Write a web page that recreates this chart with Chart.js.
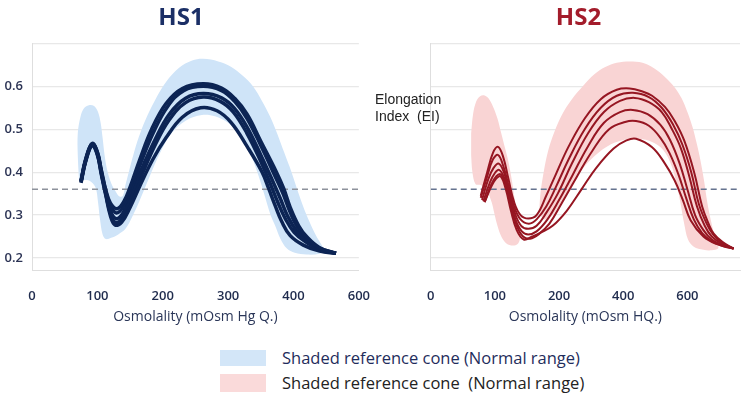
<!DOCTYPE html>
<html>
<head>
<meta charset="utf-8">
<script src="https://cdn.jsdelivr.net/npm/chart.js@4.4.1/dist/chart.umd.min.js"></script>
<style>
  body { margin: 0; background: #fff; }
  #wrap { position: relative; width: 749px; height: 400px; overflow: hidden; background: #fff; }
  #hs1 { position: absolute; left: 0; top: 0; }
  #hs2 { position: absolute; left: 417px; top: 0; }
  .ei { position: absolute; left: 375px; top: 91px; font-family: "Liberation Sans", Arial, sans-serif;
        font-size: 14px; line-height: 17px; color: #222; }
  .sw { position: absolute; left: 220px; width: 46px; }
  .lt { position: absolute; left: 282px; font-family: "Open Sans", sans-serif; font-size: 16.5px;
        line-height: 22px; white-space: pre; }
</style>
</head>
<body>
<div id="wrap">
  <canvas id="hs1" width="380" height="340"></canvas>
  <canvas id="hs2" width="332" height="340"></canvas>
  <div class="ei">Elongation<br>Index&nbsp; (EI)</div>
  <div class="sw" style="top:350px;height:16px;background:#d3e6f8"></div>
  <div class="lt" style="top:347px;color:#1f2d5c">Shaded reference cone (Normal range)</div>
  <div class="sw" style="top:374px;height:18px;background:#fadada"></div>
  <div class="lt" style="top:372px;color:#222">Shaded reference cone  (Normal range)</div>
</div>
<script>
// axis ticks (positions on the drawn axis and the labels printed there)
var hs1TickValues = [0, 100, 200, 300, 400, 500];
var hs1TickLabels = ['0', '100', '200', '300', '400', '600'];
var hs2TickValues = [0, 100, 200, 300, 400];
var hs2TickLabels = ['0', '100', '200', '400', '600'];
var yTickValues = [0.2, 0.3, 0.4, 0.5, 0.6, 0.7];
var yTickLabels = ['0.2', '0.3', '0.4', '0.5', '0.6', ''];
var dashedLevel = 0.36;

// HS1 curves [osmolality, EI]
var hs1A = [[75,0.38],[82,0.43],[92,0.467],[100,0.447],[106,0.405],[113,0.358],[120,0.328],[130,0.315],[140,0.33],[150,0.365],[165,0.43],[183,0.50],[205,0.56],[230,0.595],[262,0.606],[290,0.596],[310,0.572],[329,0.535],[350,0.472],[374,0.40],[385,0.362],[395,0.318],[408,0.275],[420,0.25],[440,0.224],[465,0.211]];
var hs1B = [[75,0.379],[82,0.428],[92,0.466],[100,0.446],[106,0.403],[113,0.355],[120,0.322],[129,0.305],[139,0.318],[150,0.355],[166,0.42],[185,0.49],[207,0.552],[232,0.59],[262,0.60],[290,0.59],[310,0.565],[329,0.525],[350,0.462],[372,0.39],[384,0.35],[394,0.31],[406,0.272],[420,0.247],[440,0.223],[465,0.211]];
var hs1C = [[75,0.378],[82,0.427],[92,0.465],[100,0.444],[106,0.40],[113,0.35],[120,0.31],[128,0.292],[138,0.302],[150,0.34],[167,0.405],[188,0.475],[210,0.535],[235,0.572],[262,0.583],[290,0.573],[310,0.548],[329,0.505],[350,0.44],[368,0.38],[380,0.338],[391,0.298],[404,0.265],[420,0.243],[440,0.221],[465,0.211]];
var hs1D = [[75,0.377],[82,0.426],[92,0.464],[100,0.442],[106,0.398],[113,0.348],[120,0.303],[127,0.283],[137,0.29],[150,0.33],[167,0.39],[188,0.462],[210,0.522],[235,0.562],[262,0.575],[288,0.565],[308,0.54],[329,0.49],[350,0.425],[364,0.375],[376,0.33],[388,0.29],[401,0.26],[418,0.238],[440,0.219],[465,0.211]];
var hs1E = [[75,0.375],[82,0.424],[92,0.462],[100,0.44],[106,0.395],[113,0.345],[120,0.298],[127,0.277],[137,0.283],[150,0.318],[165,0.368],[185,0.43],[205,0.48],[230,0.528],[258,0.55],[283,0.543],[305,0.515],[329,0.46],[352,0.40],[362,0.362],[372,0.322],[382,0.285],[395,0.252],[415,0.23],[440,0.216],[465,0.211]];
// HS1 reference cone outline
var hs1Cone = [[72,0.38],[70,0.44],[70,0.49],[74,0.528],[79,0.548],[87,0.556],[95,0.554],[101,0.54],[105,0.515],[108,0.48],[111,0.44],[115,0.405],[121,0.375],[128,0.355],[134,0.343],[139,0.345],[143,0.37],[148,0.40],[155,0.44],[163,0.48],[173,0.52],[188,0.567],[205,0.61],[225,0.643],[245,0.66],[262,0.664],[285,0.658],[305,0.645],[322,0.625],[338,0.6],[352,0.565],[364,0.53],[375,0.49],[386,0.445],[397,0.40],[409,0.345],[420,0.30],[430,0.266],[438,0.243],[444,0.228],[447,0.218],[440,0.21],[420,0.208],[402,0.212],[390,0.222],[380,0.245],[372,0.275],[365,0.30],[357,0.34],[349,0.38],[340,0.42],[330,0.46],[317,0.49],[300,0.515],[280,0.53],[260,0.533],[235,0.52],[213,0.49],[196,0.445],[180,0.39],[165,0.335],[153,0.295],[143,0.268],[132,0.255],[121,0.247],[113,0.244],[108,0.255],[104,0.29],[101,0.33],[97,0.365],[88,0.38],[80,0.382]];

// HS2 curves
var hs2A = [[78,0.345],[88,0.40],[97,0.445],[105,0.459],[113,0.435],[121,0.385],[130,0.33],[140,0.30],[152,0.292],[165,0.30],[180,0.345],[195,0.395],[215,0.46],[240,0.525],[265,0.57],[290,0.592],[310,0.595],[330,0.588],[345,0.578],[365,0.552],[380,0.52],[395,0.474],[411,0.397],[423,0.32],[433,0.28],[441,0.257],[455,0.237],[472,0.222]];
var hs2B = [[78,0.34],[88,0.39],[97,0.43],[105,0.44],[113,0.415],[121,0.37],[130,0.32],[140,0.29],[153,0.28],[165,0.29],[180,0.32],[195,0.365],[215,0.43],[240,0.50],[265,0.55],[290,0.578],[315,0.585],[340,0.575],[360,0.55],[378,0.51],[392,0.465],[406,0.40],[418,0.325],[430,0.28],[440,0.255],[455,0.235],[472,0.222]];
var hs2C = [[80,0.335],[90,0.385],[98,0.41],[106,0.42],[114,0.40],[122,0.355],[131,0.305],[141,0.275],[152,0.268],[165,0.275],[180,0.305],[198,0.35],[220,0.42],[245,0.49],[270,0.54],[295,0.566],[318,0.573],[340,0.563],[360,0.54],[376,0.50],[390,0.455],[403,0.39],[415,0.32],[427,0.275],[438,0.25],[455,0.232],[472,0.222]];
var hs2D = [[82,0.332],[92,0.375],[100,0.398],[107,0.405],[115,0.385],[123,0.34],[132,0.29],[142,0.262],[152,0.255],[165,0.262],[182,0.29],[200,0.335],[220,0.39],[245,0.46],[270,0.515],[295,0.54],[315,0.545],[338,0.535],[358,0.51],[373,0.475],[388,0.42],[400,0.36],[412,0.30],[425,0.265],[438,0.243],[455,0.23],[472,0.222]];
var hs2E = [[84,0.33],[94,0.37],[102,0.39],[109,0.395],[117,0.37],[125,0.32],[134,0.275],[144,0.25],[155,0.245],[168,0.255],[185,0.28],[205,0.33],[228,0.39],[252,0.45],[278,0.50],[303,0.517],[320,0.519],[340,0.508],[358,0.48],[372,0.445],[386,0.395],[398,0.34],[410,0.29],[423,0.258],[437,0.24],[455,0.228],[472,0.222]];
var hs2F = [[84,0.33],[94,0.365],[102,0.385],[109,0.39],[117,0.36],[125,0.31],[134,0.265],[145,0.243],[158,0.25],[170,0.258],[190,0.275],[212,0.31],[235,0.36],[258,0.41],[285,0.455],[305,0.474],[320,0.478],[345,0.458],[365,0.42],[380,0.381],[393,0.335],[405,0.288],[425,0.25],[445,0.233],[472,0.222]];
// HS2 reference cone outlines (two separate pieces)
var hs2ConeLeft = [[63,0.49],[66,0.535],[71,0.565],[77,0.577],[83,0.579],[90,0.572],[97,0.553],[104,0.525],[110,0.49],[116,0.455],[121,0.425],[126,0.385],[130,0.345],[134,0.305],[137,0.27],[139,0.245],[135,0.232],[128,0.229],[118,0.234],[110,0.25],[104,0.275],[99,0.305],[95,0.33],[88,0.355],[78,0.37],[70,0.372],[65,0.40],[63,0.44]];
var hs2ConeMain = [[169,0.305],[171,0.35],[176,0.40],[183,0.45],[193,0.495],[205,0.535],[220,0.57],[237,0.6],[255,0.628],[272,0.645],[290,0.655],[310,0.658],[330,0.655],[348,0.642],[365,0.622],[380,0.598],[391,0.572],[400,0.54],[408,0.505],[414,0.47],[420,0.43],[426,0.38],[431,0.33],[437,0.285],[442,0.255],[447,0.232],[448,0.222],[438,0.218],[425,0.219],[410,0.226],[401,0.243],[395,0.28],[389,0.33],[382,0.38],[374,0.42],[362,0.452],[345,0.47],[325,0.478],[300,0.475],[275,0.46],[250,0.43],[228,0.39],[210,0.345],[195,0.31],[183,0.29],[175,0.29]];

function pts(arr) {
    return arr.map(function(p) { return {x: p[0], y: p[1]}; });
}

function buildChart(id, cfg) {
    var datasets = [];
    // first datasets are drawn on top
    cfg.curves.forEach(function(c) {
        datasets.push({
            data: pts(c), showLine: true, borderColor: cfg.lineColor, borderWidth: cfg.lineWidth,
            pointRadius: 0, tension: 0.4, fill: false
        });
    });
    datasets.push({
        data: [{x: cfg.xMin, y: dashedLevel}, {x: cfg.xMax, y: dashedLevel}],
        showLine: true, borderColor: cfg.dashColor, borderWidth: 1.5, borderDash: [6, 4],
        pointRadius: 0, fill: false
    });
    cfg.cones.forEach(function(c) {
        datasets.push({
            data: pts(c), showLine: true, borderColor: 'rgba(0,0,0,0)', borderWidth: 0,
            backgroundColor: cfg.coneColor, pointRadius: 0, tension: 0.35, fill: 'shape'
        });
    });

    return new Chart(document.getElementById(id), {
        type: 'scatter',
        data: {datasets: datasets},
        options: {
            responsive: false,
            animation: false,
            layout: {padding: {left: 0, right: cfg.padRight, top: 0, bottom: 0}},
            plugins: {
                legend: {display: false},
                tooltip: {enabled: false},
                title: {
                    display: true, text: cfg.title, color: cfg.titleColor,
                    font: {family: 'Open Sans', size: 24, weight: 'bold'},
                    padding: {top: 4, bottom: 10.6}
                }
            },
            scales: {
                x: {
                    type: 'linear', min: cfg.xMin, max: cfg.xMax,
                    afterBuildTicks: function(s) { s.ticks = cfg.tickValues.map(function(v) { return {value: v}; }); },
                    afterFit: function(s) { s.height = 70; },
                    ticks: {
                        autoSkip: false, maxRotation: 0, padding: 10, color: '#1f2b4d',
                        font: {family: 'Open Sans', size: 13, weight: '600'},
                        callback: function(v, i) { return cfg.tickLabels[i]; }
                    },
                    grid: {display: false},
                    border: {display: true, color: '#dedede'},
                    title: {
                        display: true, text: cfg.xTitle, color: '#2a3658',
                        font: {family: 'Open Sans', size: 14}, padding: {top: 0, bottom: 15}
                    }
                },
                y: {
                    type: 'linear', min: 0.172, max: 0.7,
                    afterBuildTicks: function(s) { s.ticks = yTickValues.map(function(v) { return {value: v}; }); },
                    afterFit: function(s) { s.width = cfg.yWidth; },
                    ticks: {
                        display: cfg.showY, padding: 9, color: '#2b3354',
                        font: {family: 'Open Sans', size: 13, weight: '600'},
                        callback: function(v, i) { return yTickLabels[i]; }
                    },
                    grid: {color: '#e8e8e8', drawTicks: false, lineWidth: 1.2},
                    border: {display: true, color: '#dedede'}
                }
            }
        }
    });
}

buildChart('hs1', {
    title: 'HS1', titleColor: '#1b2f66', xTitle: 'Osmolality (mOsm Hg Q.)',
    curves: [hs1A, hs1B, hs1C, hs1D, hs1E], cones: [hs1Cone],
    lineColor: '#0c2454', lineWidth: 3.5, coneColor: '#cfe4f8', dashColor: '#8d929c',
    xMin: 0, xMax: 500, tickValues: hs1TickValues, tickLabels: hs1TickLabels,
    yWidth: 32, showY: true, padRight: 18
});

buildChart('hs2', {
    title: 'HS2', titleColor: '#a31c2b', xTitle: 'Osmolality (mOsm HQ.)',
    curves: [hs2A, hs2B, hs2C, hs2D, hs2E, hs2F], cones: [hs2ConeLeft, hs2ConeMain],
    lineColor: '#961622', lineWidth: 2, coneColor: '#f9d4d4', dashColor: '#65738f',
    xMin: 0, xMax: 482, tickValues: hs2TickValues, tickLabels: hs2TickLabels,
    yWidth: 5, showY: false, padRight: 9
});
</script>
</body>
</html>
